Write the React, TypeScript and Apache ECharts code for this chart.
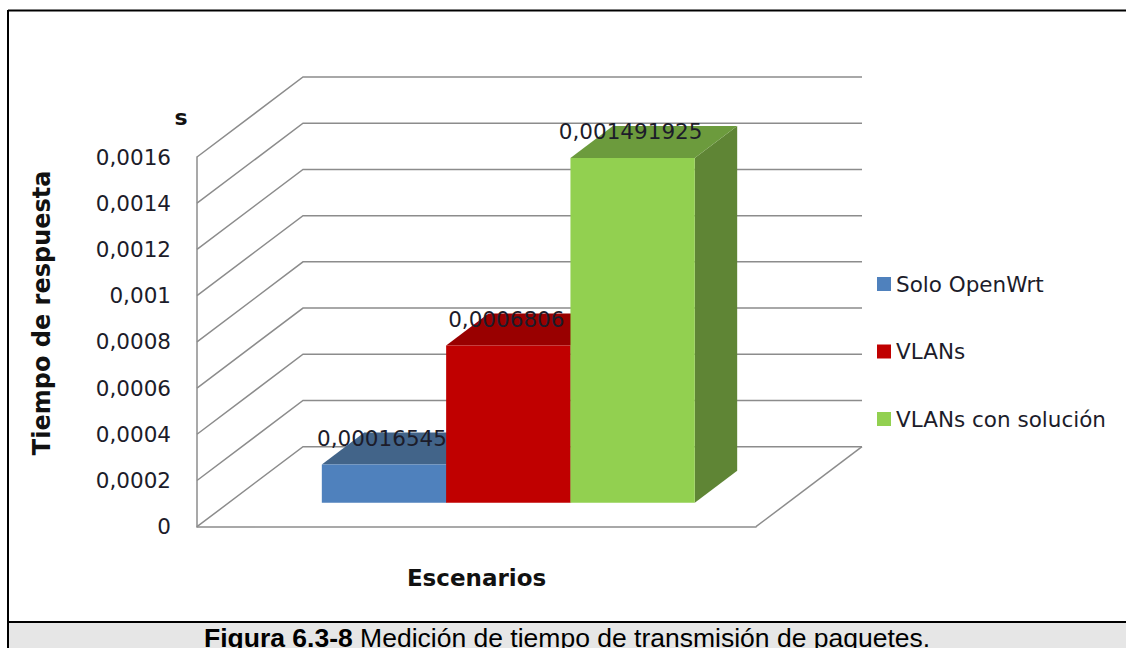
import React, { useEffect, useRef } from "react";
import * as echarts from "echarts";

const categories = ["Escenarios"];
const seriesNames = ["Solo OpenWrt", "VLANs", "VLANs con solución"];
const seriesValues = [0.00016545, 0.0006806, 0.001491925];
const frontColors = ["#4f81bd", "#c00000", "#92d050"];
const topColors = ["#426489", "#990000", "#6c9b3d"];
const sideColors = ["#3a5a80", "#8a0000", "#5f8535"];
const yTicks = [0, 0.0002, 0.0004, 0.0006, 0.0008, 0.001, 0.0012, 0.0014, 0.0016];
const caption = ["Figura 6.3-8", "Medición de tiempo de transmisión de paquetes."];

const FONT = '"DejaVu Sans", sans-serif';
const GRID = { x: 197, y: 157, w: 559, h: 369.7 };
const DEPTH_X = 106;
const DEPTH_Y = -80;
const BAR_FRAC = 0.2224;
const BAR_FLOOR = 0.3;
const BAR_DEPTH = 0.4;
const LINE = "#8c8c8c";

const comma = (v: number) => String(v).replace(".", ",");

function renderWall(params: any, api: any) {
  const cs = params.coordSys;
  const t = api.value(1);
  const y = api.coord([0, t])[1];
  const shape = {
    points: [
      [cs.x, y],
      [cs.x + DEPTH_X, y + DEPTH_Y],
      [cs.x + cs.width + DEPTH_X, y + DEPTH_Y],
    ],
  };
  const style = { stroke: LINE, lineWidth: 1.5, fill: "none" };
  const children: any[] = [{ type: "polyline", shape, style }];
  if (t === 0) {
    children.push({
      type: "polyline",
      shape: {
        points: [
          [cs.x + cs.width + DEPTH_X, y + DEPTH_Y],
          [cs.x + cs.width, y],
        ],
      },
      style,
    });
  }
  return { type: "group", children };
}

function makeBar(i: number) {
  return (params: any, api: any) => {
    const cs = params.coordSys;
    const w = cs.width * BAR_FRAC;
    const base = api.coord([0, 0])[1];
    const v = api.value(1);
    const h = base - api.coord([0, v])[1];
    const x0 = cs.x + (cs.width - w * 3) / 2 + i * w + DEPTH_X * BAR_FLOOR;
    const x1 = x0 + w;
    const yb = base + DEPTH_Y * BAR_FLOOR;
    const yt = yb - h;
    const dx = DEPTH_X * BAR_DEPTH;
    const dy = DEPTH_Y * BAR_DEPTH;
    return {
      type: "group",
      children: [
        {
          type: "polygon",
          shape: { points: [[x1, yb], [x1 + dx, yb + dy], [x1 + dx, yt + dy], [x1, yt]] },
          style: { fill: sideColors[i] },
        },
        {
          type: "polygon",
          shape: { points: [[x0, yt], [x1, yt], [x1 + dx, yt + dy], [x0 + dx, yt + dy]] },
          style: { fill: topColors[i] },
        },
        { type: "rect", shape: { x: x0, y: yt, width: w, height: h }, style: { fill: frontColors[i] } },
        {
          type: "text",
          style: {
            text: comma(v),
            x: (x0 + x1) / 2 - 2,
            y: yt - 26,
            align: "center",
            verticalAlign: "middle",
            font: `21.5px ${FONT}`,
            fill: "#1c1c2a",
          },
        },
      ],
    };
  };
}

export default function App() {
  const ref = useRef<HTMLDivElement>(null);
  useEffect(() => {
    document.body.style.margin = "0";
    const chart = echarts.init(ref.current!, null, { renderer: "svg" });
    chart.setOption({
      animation: false,
      backgroundColor: "#ffffff",
      title: {
        left: 204,
        top: 624,
        padding: 0,
        text: `{b|${caption[0]}} {n|${caption[1]}}`,
        textStyle: {
          fontWeight: "normal",
          fontFamily: "Liberation Sans",
          fontSize: 26.5,
          rich: {
            b: { fontFamily: "Liberation Sans", fontWeight: "bold", fontSize: 26.5, color: "#000" },
            n: { fontFamily: "Liberation Sans", fontWeight: "normal", fontSize: 26.5, color: "#000" },
          },
        },
      },
      legend: {
        left: 877,
        top: 273,
        padding: 0,
        orient: "vertical",
        itemWidth: 14,
        itemHeight: 14,
        itemGap: 45.5,
        icon: "rect",
        data: seriesNames,
        textStyle: { fontFamily: FONT, fontSize: 21.5, color: "#1c1c2a" },
      },
      grid: { left: GRID.x, top: GRID.y, width: GRID.w, height: GRID.h },
      xAxis: {
        type: "category",
        data: categories,
        name: "Escenarios",
        nameLocation: "middle",
        nameGap: 40,
        nameTextStyle: { fontFamily: FONT, fontWeight: "bold", fontSize: 23, color: "#111" },
        axisLabel: { show: false },
        axisTick: { show: false },
        axisLine: { lineStyle: { color: LINE, width: 1.5 } },
      },
      yAxis: {
        type: "value",
        min: 0,
        max: 0.0016,
        interval: 0.0002,
        name: "Tiempo de respuesta",
        nameLocation: "middle",
        nameGap: 143,
        nameTextStyle: {
          fontFamily: FONT,
          fontWeight: "bold",
          fontSize: 24,
          color: "#111",
          padding: [0, 0, 0, 58],
        },
        splitLine: { show: false },
        axisTick: { show: false },
        axisLine: { show: true, lineStyle: { color: LINE, width: 1.5 } },
        axisLabel: {
          margin: 26,
          formatter: (v: number) => comma(v),
          fontFamily: FONT,
          fontSize: 21.5,
          color: "#1c1c2a",
        },
      },
      graphic: [
        { type: "rect", silent: true, z: -1, shape: { x: 8, y: 622, width: 1118, height: 26 }, style: { fill: "#e6e6e6" } },
        { type: "line", silent: true, shape: { x1: 8, y1: 10.5, x2: 1126, y2: 10.5 }, style: { stroke: "#000", lineWidth: 2 } },
        { type: "line", silent: true, shape: { x1: 8, y1: 10, x2: 8, y2: 648 }, style: { stroke: "#000", lineWidth: 2 } },
        { type: "line", silent: true, shape: { x1: 8, y1: 622, x2: 1126, y2: 622 }, style: { stroke: "#000", lineWidth: 2 } },
        { type: "text", silent: true, style: { text: "s", x: 181, y: 117, align: "center", verticalAlign: "middle", font: `bold 22px ${FONT}`, fill: "#111" } },
      ],
      series: [
        {
          type: "custom",
          name: "walls",
          renderItem: renderWall,
          data: yTicks.map((t) => [0, t]),
          silent: true,
          z: 1,
        },
        ...seriesNames.map((name, i) => ({
          type: "custom",
          name,
          renderItem: makeBar(i),
          data: [[0, seriesValues[i]]],
          itemStyle: { color: frontColors[i] },
          silent: true,
          z: 2 + i,
        })),
      ],
    });
    return () => chart.dispose();
  }, []);
  return <div ref={ref} style={{ width: 1126, height: 648, position: "fixed", left: 0, top: 0, overflow: "hidden" }} />;
}
